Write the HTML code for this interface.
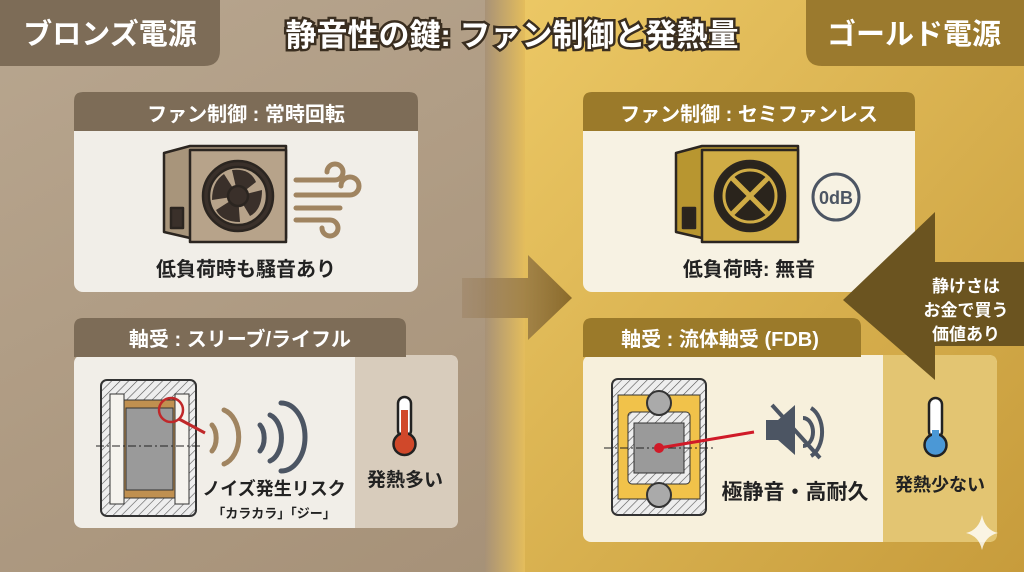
<!DOCTYPE html>
<html><head><meta charset="utf-8"><style>
body{margin:0;width:1024px;height:572px;overflow:hidden;font-family:"Liberation Sans","Noto Sans CJK JP",sans-serif;}
svg text{font-family:"Liberation Sans","Noto Sans CJK JP",sans-serif;font-weight:bold;}
</style></head><body>
<svg width="1024" height="572" viewBox="0 0 1024 572" xmlns="http://www.w3.org/2000/svg">
<defs>
<linearGradient id="bgL" x1="0" y1="0" x2="1" y2="1"><stop offset="0" stop-color="#b8a68f"/><stop offset="1" stop-color="#a08a70"/></linearGradient>
<linearGradient id="bgR" x1="0" y1="0" x2="1" y2="1"><stop offset="0" stop-color="#ecc865"/><stop offset="1" stop-color="#c79c3c"/></linearGradient>
<linearGradient id="mid" x1="0" y1="0" x2="1" y2="0"><stop offset="0" stop-color="#a89277"/><stop offset="1" stop-color="#e4bd5c"/></linearGradient>
<linearGradient id="arr" x1="0" y1="0" x2="1" y2="0"><stop offset="0" stop-color="#9c8263" stop-opacity="0.5"/><stop offset="1" stop-color="#8a6a2a"/></linearGradient>
<pattern id="hatch" width="6" height="6" patternUnits="userSpaceOnUse" patternTransform="rotate(45)"><rect width="6" height="6" fill="#eee"/><line x1="0" y1="0" x2="0" y2="6" stroke="#555" stroke-width="1.2"/></pattern>
</defs>
<rect width="1024" height="572" fill="url(#bgL)"/>
<rect x="510" width="514" height="572" fill="url(#bgR)"/>
<rect x="485" width="40" height="572" fill="url(#mid)"/>
<!-- tags -->
<path d="M0 0H220V50Q220 66 204 66H0Z" fill="#7d6c57"/>
<text x="110" y="44" font-size="29" fill="#fff" text-anchor="middle">ブロンズ電源</text>
<path d="M1024 0H806V50Q806 66 822 66H1024Z" fill="#9b7a2e"/>
<text x="914" y="44" font-size="29" fill="#fff" text-anchor="middle">ゴールド電源</text>
<text x="512" y="46" font-size="31" fill="#fff" stroke="#3a2e20" stroke-width="5" paint-order="stroke" text-anchor="middle">静音性の鍵: ファン制御と発熱量</text>
<!-- middle arrow -->
<path d="M462 278H528V255L572 298L528 340V318H462Z" fill="url(#arr)"/>
<!-- panel 1 -->
<rect x="74" y="92" width="344" height="200" rx="9" fill="#f1eee8"/>
<path d="M74 131V101Q74 92 83 92H409Q418 92 418 101V131Z" fill="#7d6c57"/>
<text x="246" y="121" font-size="20" fill="#fff" text-anchor="middle">ファン制御 : 常時回転</text>
<g stroke="#2b2520" stroke-width="2.5" stroke-linejoin="round">
<path d="M164 153L190 146H286V238H190L164 232Z" fill="#a8957b"/>
<rect x="190" y="150" width="96" height="92" fill="#b7a38a"/>
<circle cx="238" cy="196" r="35" fill="#3a302a"/><circle cx="238" cy="196" r="29" fill="#b7a38a"/>
<g fill="#3a302a" stroke="none">
<path d="M238 196L232 170Q250 168 256 182Z"/><path d="M238 196L262 190Q262 210 250 216Z"/><path d="M238 196L240 222Q222 222 216 210Z"/><path d="M238 196L212 200Q212 182 224 174Z"/>
</g>
<circle cx="238" cy="196" r="10" fill="#3a302a"/>
<rect x="171" y="208" width="12" height="20" fill="#3a302a"/>
</g>
<g fill="none" stroke="#a08460" stroke-width="5" stroke-linecap="round">
<path d="M296 180H335a8 8 0 1 0-8-8"/><path d="M296 195H350a9 9 0 1 0-9-9"/><path d="M296 208H340"/><path d="M296 220H330a8 8 0 1 1-8 8"/>
</g>
<text x="246" y="276" font-size="20" fill="#222" text-anchor="middle">低負荷時も騒音あり</text>
<!-- panel 2 -->
<rect x="74" y="355" width="384" height="173" rx="8" fill="#f1eee8"/>
<path d="M355 355H450Q458 355 458 363V520Q458 528 450 528H355Z" fill="#d8ccbc"/>
<path d="M74 357V327Q74 318 83 318H397Q406 318 406 327V357Z" fill="#7d6c57"/>
<text x="240" y="346" font-size="20" fill="#fff" text-anchor="middle">軸受 : スリーブ/ライフル</text>
<rect x="101" y="380" width="95" height="136" rx="6" fill="url(#hatch)" stroke="#333" stroke-width="2"/>
<rect x="110" y="394" width="14" height="110" fill="#f5f3ee" stroke="#333"/>
<rect x="175" y="394" width="14" height="110" fill="#f5f3ee" stroke="#333"/>
<rect x="124" y="400" width="51" height="98" fill="#c09050" stroke="#333"/>
<rect x="126" y="408" width="47" height="82" fill="#9a9a9a" stroke="#333"/>
<line x1="96" y1="446" x2="200" y2="446" stroke="#222" stroke-dasharray="8 3 2 3"/>
<circle cx="171" cy="410" r="12" fill="none" stroke="#c0282a" stroke-width="2.5"/>
<line x1="179" y1="419" x2="205" y2="433" stroke="#c0282a" stroke-width="3"/>
<g fill="none" stroke-width="5" stroke-linecap="round">
<path d="M212 425a10 16 0 0 1 0 26" stroke="#a08460"/><path d="M224 410a20 28 0 0 1 0 54" stroke="#a08460"/>
<path d="M260 425a10 16 0 0 1 0 26" stroke="#4c5563"/><path d="M270 415a16 24 0 0 1 0 46" stroke="#4c5563"/><path d="M281 403a24 34 0 0 1 0 68" stroke="#4c5563"/>
</g>
<text x="274" y="495" font-size="18" fill="#222" text-anchor="middle">ノイズ発生リスク</text>
<text x="274" y="518" font-size="13" fill="#222" text-anchor="middle">「カラカラ」「ジー」</text>
<rect x="398" y="397" width="13" height="40" rx="6.5" fill="#fff" stroke="#222" stroke-width="2.5"/>
<circle cx="404.5" cy="444" r="11" fill="#d0482a" stroke="#222" stroke-width="2.5"/>
<rect x="401" y="410" width="7" height="30" fill="#d0482a"/>
<text x="405" y="486" font-size="19" fill="#222" text-anchor="middle">発熱多い</text>
<!-- panel 3 -->
<rect x="583" y="92" width="332" height="200" rx="9" fill="#f7f2e3"/>
<path d="M583 131V101Q583 92 592 92H906Q915 92 915 101V131Z" fill="#9b7a2a"/>
<text x="749" y="121" font-size="20" fill="#fff" text-anchor="middle">ファン制御 : セミファンレス</text>
<g stroke="#2b2520" stroke-width="2.5" stroke-linejoin="round">
<path d="M676 153L702 146H798V238H702L676 232Z" fill="#b89630"/>
<rect x="702" y="150" width="96" height="92" fill="#d0ac45"/>
<circle cx="750" cy="196" r="35" fill="#2a241c"/><circle cx="750" cy="196" r="26" fill="#2a241c" stroke="#d0ac45" stroke-width="3"/>
<line x1="731" y1="177" x2="769" y2="215" stroke="#d0ac45" stroke-width="5"/><line x1="769" y1="177" x2="731" y2="215" stroke="#d0ac45" stroke-width="5"/>
<rect x="683" y="208" width="12" height="20" fill="#2a241c"/>
</g>
<circle cx="836" cy="197" r="23" fill="#f7f2e3" stroke="#4c5563" stroke-width="3"/>
<text x="836" y="204" font-size="18" fill="#4c5563" text-anchor="middle">0dB</text>
<text x="749" y="276" font-size="20" fill="#222" text-anchor="middle">低負荷時: 無音</text>
<!-- panel 4 -->
<rect x="583" y="355" width="414" height="187" rx="8" fill="#f7f0dc"/>
<path d="M883 355H989Q997 355 997 363V534Q997 542 989 542H883Z" fill="#e3c572"/>
<path d="M583 357V327Q583 318 592 318H852Q861 318 861 327V357Z" fill="#9b7a2a"/>
<text x="720" y="346" font-size="20" fill="#fff" text-anchor="middle">軸受 : 流体軸受 (FDB)</text>
<rect x="612" y="379" width="94" height="136" rx="6" fill="url(#hatch)" stroke="#333" stroke-width="2"/>
<rect x="618" y="395" width="82" height="104" fill="#f1c24a" stroke="#333"/>
<rect x="628" y="412" width="62" height="72" rx="4" fill="url(#hatch)" stroke="#333"/>
<rect x="634" y="423" width="50" height="50" fill="#9a9a9a" stroke="#333"/>
<circle cx="659" cy="403" r="12" fill="#aaa" stroke="#333" stroke-width="2"/>
<circle cx="659" cy="495" r="12" fill="#aaa" stroke="#333" stroke-width="2"/>
<line x1="604" y1="448" x2="714" y2="448" stroke="#222" stroke-dasharray="8 3 2 3"/>
<line x1="659" y1="448" x2="754" y2="432" stroke="#d01a28" stroke-width="3"/>
<circle cx="659" cy="448" r="5" fill="#d01a28"/>
<path d="M766 420H778L795 405V455L778 440H766Z" fill="#4c5563"/>
<path d="M803 418a10 14 0 0 1 0 28M811 408a18 26 0 0 1 0 48" fill="none" stroke="#4c5563" stroke-width="4"/>
<line x1="772" y1="405" x2="820" y2="458" stroke="#4c5563" stroke-width="4"/>
<text x="795" y="499" font-size="21" fill="#222" text-anchor="middle">極静音・高耐久</text>
<rect x="929" y="398" width="13" height="40" rx="6.5" fill="#fff" stroke="#222" stroke-width="2.5"/>
<circle cx="935.5" cy="445" r="11" fill="#4b98d6" stroke="#222" stroke-width="2.5"/>
<rect x="932" y="430" width="7" height="12" fill="#4b98d6"/>
<text x="940" y="491" font-size="18" fill="#222" text-anchor="middle">発熱少ない</text>
<!-- big left arrow -->
<path d="M843 300L935 212V262H1024V346H935V380Z" fill="#6b5420"/>
<text x="966" y="292" font-size="17" fill="#fff" text-anchor="middle">静けさは</text>
<text x="966" y="316" font-size="17" fill="#fff" text-anchor="middle">お金で買う</text>
<text x="966" y="340" font-size="17" fill="#fff" text-anchor="middle">価値あり</text>
<path d="M982 515Q985 530 998 533Q985 536 982 550Q979 536 966 533Q979 530 982 515Z" fill="#fff" opacity="0.8"/>
</svg>
</body></html>
